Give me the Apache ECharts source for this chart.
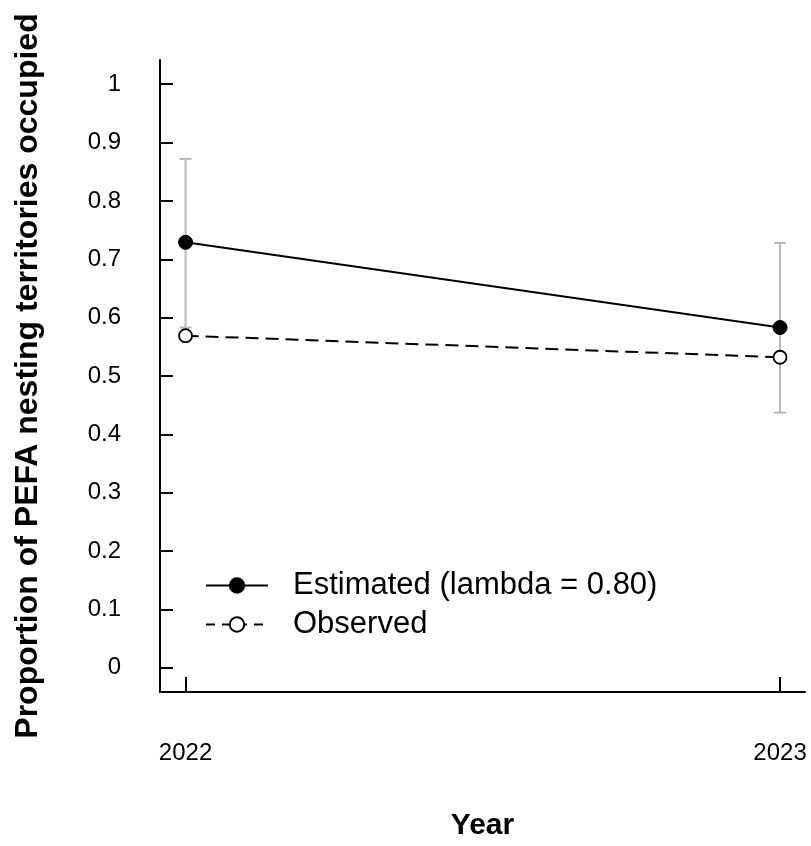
<!DOCTYPE html>
<html>
<head>
<meta charset="utf-8">
<script src="https://cdn.jsdelivr.net/npm/echarts@6/dist/echarts.min.js"></script>
<style>
  html, body { margin: 0; padding: 0; background: #fff; }
  #chart { width: 811px; height: 846px; }
</style>
</head>
<body>
<div id="chart"></div>
<script>
// Occupancy of PEFA nesting territories by survey year
const years = [2022, 2023];
const estimated = [0.729, 0.583];   // model estimate (lambda = 0.80)
const lowerCI = [0.583, 0.437];
const upperCI = [0.872, 0.728];
const observed = [0.569, 0.532];     // naive observed proportion
const yTicks = [0, 0.1, 0.2, 0.3, 0.4, 0.5, 0.6, 0.7, 0.8, 0.9, 1];

const FONT = '"Liberation Sans", Arial, sans-serif';

const chart = echarts.init(document.getElementById('chart'), null, { renderer: 'canvas' });

const errData = years.map((y, i) => [y, lowerCI[i], upperCI[i]]);

chart.setOption({
  animation: false,
  backgroundColor: '#ffffff',
  grid: { left: 160, right: 6, top: 60, bottom: 154, containLabel: false, outerBoundsMode: 'none' },
  legend: {
    left: 200,
    top: 565,
    orient: 'vertical',
    itemWidth: 62,
    itemHeight: 18,
    itemGap: 8,
    textStyle: { fontFamily: FONT, fontSize: 31, color: '#000', padding: [0, 0, 0, 20] },
    data: [
      { name: 'Estimated (lambda = 0.80)' },
      { name: 'Observed', lineStyle: { type: [9, 7] } }
    ]
  },
  xAxis: {
    type: 'value',
    min: 2021.957,
    max: 2023.042,
    name: 'Year',
    nameLocation: 'middle',
    nameGap: 119,
    nameTextStyle: { fontFamily: FONT, fontSize: 30, fontWeight: 'bold', color: '#000' },
    axisLine: { show: true, onZero: false, lineStyle: { color: '#000', width: 2 } },
    axisTick: { show: true, inside: true, length: 15, customValues: years, lineStyle: { color: '#000', width: 2 } },
    axisLabel: {
      customValues: years, margin: 49, fontFamily: FONT, fontSize: 24, color: '#000',
      formatter: v => String(Math.round(v))
    },
    splitLine: { show: false }
  },
  yAxis: {
    type: 'value',
    min: -0.0417,
    max: 1.0415,
    name: 'Proportion of PEFA nesting territories occupied',
    nameLocation: 'middle',
    nameRotate: 90,
    nameGap: 116,
    nameTextStyle: { fontFamily: FONT, fontSize: 32, fontWeight: 'bold', color: '#000' },
    axisLine: { show: true, onZero: false, lineStyle: { color: '#000', width: 2 } },
    axisTick: { show: true, inside: true, length: 13, customValues: yTicks, lineStyle: { color: '#000', width: 2 } },
    axisLabel: {
      customValues: yTicks, margin: 39, fontFamily: FONT, fontSize: 24, color: '#000',
      formatter: v => (Math.round(v * 10) / 10).toString()
    },
    splitLine: { show: false }
  },
  series: [
    {
      name: 'CI',
      type: 'custom',
      z: 1,
      silent: true,
      data: errData,
      encode: { x: 0, y: [1, 2] },
      renderItem: function (params, api) {
        const x = api.value(0);
        const lo = api.coord([x, api.value(1)]);
        const hi = api.coord([x, api.value(2)]);
        const cap = 6;
        const style = { stroke: '#b8b8b8', lineWidth: 2, fill: null };
        return {
          type: 'group',
          children: [
            { type: 'line', shape: { x1: lo[0], y1: lo[1], x2: hi[0], y2: hi[1] }, style },
            { type: 'line', shape: { x1: hi[0] - cap, y1: hi[1], x2: hi[0] + cap, y2: hi[1] }, style },
            { type: 'line', shape: { x1: lo[0] - cap, y1: lo[1], x2: lo[0] + cap, y2: lo[1] }, style }
          ]
        };
      }
    },
    {
      name: 'Estimated (lambda = 0.80)',
      type: 'line',
      z: 3,
      data: years.map((y, i) => [y, estimated[i]]),
      symbol: 'circle',
      symbolSize: 14,
      itemStyle: { color: '#000', borderColor: '#000', borderWidth: 1 },
      lineStyle: { color: '#000', width: 2, type: 'solid' }
    },
    {
      name: 'Observed',
      type: 'line',
      z: 3,
      data: years.map((y, i) => [y, observed[i]]),
      symbol: 'circle',
      symbolSize: 13,
      itemStyle: { color: '#fff', borderColor: '#000', borderWidth: 1.8 },
      lineStyle: { color: '#000', width: 2, type: [13, 7] }
    }
  ]
});
</script>
</body>
</html>
